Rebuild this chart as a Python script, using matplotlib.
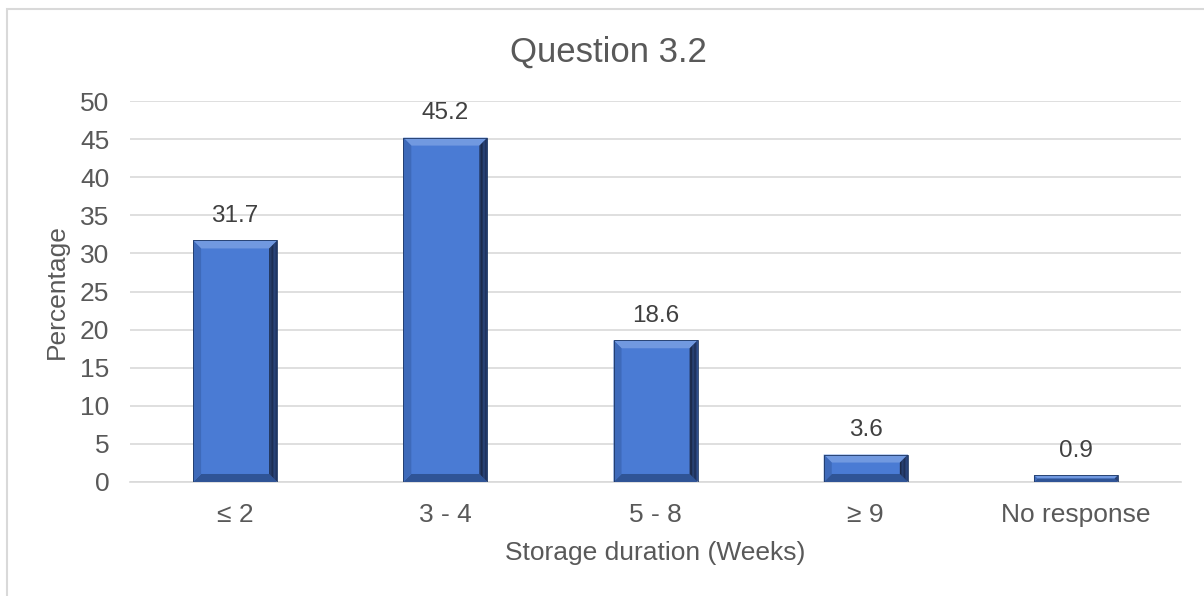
import matplotlib
matplotlib.use("Agg")
import matplotlib.pyplot as plt
from matplotlib.patches import Polygon, Rectangle

categories = ["≤ 2", "3 - 4", "5 - 8", "≥ 9", "No response"]
percentages = [31.7, 45.2, 18.6, 3.6, 0.9]

plt.rcParams["font.family"] = ["Liberation Sans", "DejaVu Sans"]

TEXT = "#595959"
FACE = "#4A7BD4"

fig = plt.figure(figsize=(12.04, 5.96), dpi=100)
ax = fig.add_axes([0.108, 0.1913, 0.873, 0.6392])

x = list(range(len(categories)))
width = 0.4
ax.bar(x, percentages, width=width, color=FACE, zorder=2)

# bevel edges: size given in pixels, converted to data units
ax.set_xlim(-0.5, len(categories) - 0.5)
ax.set_ylim(0, 50)
px_x = (len(categories)) / (0.873 * 1204)
px_y = 50 / (0.6392 * 596)
bev = 8
for xi, h in zip(x, percentages):
    l, r = xi - width / 2, xi + width / 2
    bx = bev * px_x
    by = min(bev * px_y, h / 2)
    bx = min(bx, by / px_y * px_x)
    # top (light)
    ax.add_patch(Polygon([(l, h), (r, h), (r - bx, h - by), (l + bx, h - by)],
                         closed=True, color="#7199E0", lw=0, zorder=3))
    # bottom (dark)
    ax.add_patch(Polygon([(l, 0), (r, 0), (r - bx, by), (l + bx, by)],
                         closed=True, color="#2F5496", lw=0, zorder=3))
    # left
    ax.add_patch(Polygon([(l, 0), (l, h), (l + bx, h - by), (l + bx, by)],
                         closed=True, color="#3E6ABA", lw=0, zorder=3))
    # right (shadowed, graded in strips)
    n = 6
    for k in range(n):
        a = k / n
        b = (k + 1) / n
        shade = 0.55 + 0.35 * (1 - a)
        c = (0.09 * shade + 0.05, 0.18 * shade + 0.05, 0.38 * shade + 0.05)
        ax.add_patch(Polygon([(r - bx * a, by * a), (r - bx * a, h - by * a),
                              (r - bx * b, h - by * b), (r - bx * b, by * b)],
                             closed=True, color=c, lw=0, zorder=3))
    ax.add_patch(Rectangle((l, 0), width, h, fill=False, ec="#1F3864",
                           lw=0.6, zorder=4))
    ax.text(xi, h + 3.2, f"{h}", ha="center", va="center", fontsize=17.5,
            color="#404040")

ax.set_yticks(range(0, 51, 5))
ax.yaxis.grid(True, color="#D9D9D9", lw=1.2, zorder=0)
ax.set_axisbelow(True)
for s in ["top", "right", "left"]:
    ax.spines[s].set_visible(False)
ax.spines["bottom"].set_color("#D9D9D9")
ax.spines["bottom"].set_linewidth(1.2)
ax.tick_params(axis="both", length=0, labelsize=19, labelcolor=TEXT)
ax.tick_params(axis="y", pad=15)
ax.tick_params(axis="x", pad=15)
ax.set_xticks(x)
ax.set_xticklabels(categories)

ax.set_ylabel("Percentage", fontsize=19, color=TEXT)
ax.yaxis.set_label_coords(-0.058, 0.5)
ax.set_xlabel("Storage duration (Weeks)", fontsize=19, color=TEXT)
ax.xaxis.set_label_coords(0.5, -0.156)
fig.text(0.505, 0.913, "Question 3.2", ha="center", va="center",
         fontsize=25, color=TEXT)

# chart frame
fig.patches.append(Rectangle((7 / 1204, -0.1), 1.2, 1.1 - 9 / 596,
                             transform=fig.transFigure, fill=False,
                             ec="#D9D9D9", lw=1.5))

fig.savefig("out.png", dpi=100)
